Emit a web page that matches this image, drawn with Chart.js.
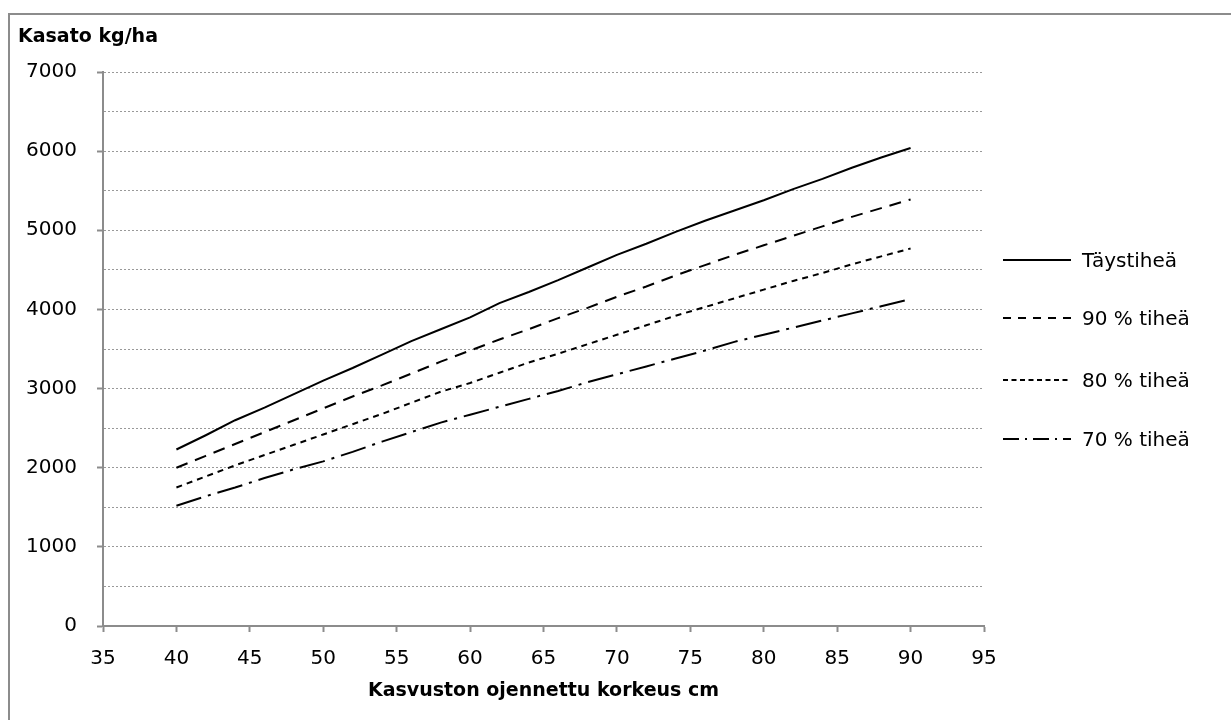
<!DOCTYPE html>
<html>
<head>
<meta charset="utf-8">
<script src="https://cdn.jsdelivr.net/npm/chart.js@4"></script>
<style>
    body { margin: 0; background: #fff; font-family: "DejaVu Sans", sans-serif; }
    .wrap { position: relative; width: 1231px; height: 720px; overflow: hidden; }
    .frame { position: absolute; left: 8px; top: 13px; width: 1240px; height: 720px; border: 2px solid #8c8c8c; box-sizing: border-box; }
    canvas { position: absolute; left: 0; top: 0; }
    .ytitle { position: absolute; left: 18px; top: 24px; font-weight: bold; font-size: 19px; color: #000; }
    #legend { position: absolute; left: 1003px; top: 0; margin: 0; padding: 0; list-style: none; }
    #legend li { position: absolute; left: 0; height: 24px; white-space: nowrap; font-size: 20px; color: #000; }
    #legend svg { position: absolute; left: 0; top: 7px; }
    #legend span { position: absolute; left: 79px; top: 0; line-height: 24px; }
</style>
</head>
<body>
<div class="wrap">
    <div class="frame"></div>
    <canvas id="yieldChart" width="1231" height="720"></canvas>
    <div class="ytitle">Kasato kg/ha</div>
    <ul id="legend"></ul>
</div>

<script>
    // plant height (cm)
    var heights = [40, 42, 44, 46, 48, 50, 52, 54, 56, 58, 60, 62, 64, 66, 68, 70, 72, 74, 76, 78, 80, 82, 84, 86, 88, 90];

    // yield kg/ha per density
    var full = [2230, 2410, 2600, 2760, 2930, 3100, 3260, 3430, 3600, 3750, 3900, 4080, 4220, 4370, 4530, 4690, 4830, 4980, 5120, 5250, 5380, 5520, 5650, 5790, 5920, 6040];
    var dens90 = [2000, 2150, 2300, 2450, 2600, 2750, 2900, 3040, 3190, 3340, 3480, 3620, 3750, 3890, 4020, 4160, 4290, 4430, 4560, 4690, 4810, 4930, 5050, 5170, 5280, 5390];
    var dens80 = [1750, 1890, 2030, 2160, 2290, 2420, 2550, 2680, 2820, 2960, 3070, 3200, 3330, 3440, 3560, 3680, 3800, 3920, 4030, 4140, 4250, 4360, 4460, 4570, 4670, 4770];
    var dens70 = [1520, 1640, 1750, 1870, 1980, 2080, 2200, 2330, 2450, 2570, 2670, 2770, 2870, 2970, 3080, 3180, 3280, 3380, 3480, 3590, 3680, 3770, 3860, 3950, 4040, 4130];

    var seriesNames = ['Täystiheä', '90 % tiheä', '80 % tiheä', '70 % tiheä'];
    var seriesValues = [full, dens90, dens80, dens70];
    var chartDash = [[], [12, 8], [6, 5], [26, 7, 3, 7]];
    var legendDash = [[], [8, 7], [5, 3.5], [16, 6, 2, 6]];
    var legendRows = [260, 318, 380, 439];

    function toPoints(values) {
        var pts = [];
        for (var i = 0; i < heights.length; i++) {
            pts.push({ x: heights[i], y: values[i] });
        }
        return pts;
    }

    var datasets = [];
    var legendHTML = '';
    for (var s = 0; s < seriesNames.length; s++) {
        datasets.push({
            label: seriesNames[s],
            data: toPoints(seriesValues[s]),
            borderColor: '#000',
            borderWidth: 2,
            borderDash: chartDash[s],
            pointRadius: 0,
            fill: false,
            tension: 0
        });
        legendHTML += '<li style="top:' + (legendRows[s] - 12) + 'px">' +
            '<svg width="70" height="10"><line x1="0" y1="5" x2="68" y2="5" stroke="#000" stroke-width="2" stroke-dasharray="' +
            (legendDash[s].length ? legendDash[s].join(',') : 'none') + '"/></svg>' +
            '<span>' + seriesNames[s] + '</span></li>';
    }
    document.getElementById('legend').innerHTML = legendHTML;

    var axisGrey = '#8c8c8c';
    var ctx = document.getElementById('yieldChart').getContext('2d');
    var chart = new Chart(ctx, {
        type: 'line',
        data: { datasets: datasets },
        options: {
            responsive: false,
            animation: false,
            devicePixelRatio: 1,
            layout: { padding: { left: 0, top: 72, right: 247, bottom: 0 } },
            scales: {
                x: {
                    type: 'linear',
                    min: 35,
                    max: 95,
                    afterFit: function (scale) { scale.height = 94; },
                    ticks: {
                        stepSize: 5,
                        color: '#000',
                        padding: 15,
                        maxRotation: 0,
                        font: { family: 'DejaVu Sans', size: 20 }
                    },
                    grid: {
                        drawOnChartArea: false,
                        drawTicks: true,
                        tickLength: 6,
                        tickColor: axisGrey,
                        tickWidth: 2
                    },
                    border: { color: axisGrey, width: 2 },
                    title: {
                        display: true,
                        text: 'Kasvuston ojennettu korkeus cm',
                        color: '#000',
                        font: { family: 'DejaVu Sans', size: 19, weight: 'bold' },
                        padding: { top: 4, bottom: 18 }
                    }
                },
                y: {
                    min: 0,
                    max: 7000,
                    afterFit: function (scale) { scale.width = 103; },
                    ticks: {
                        stepSize: 500,
                        color: '#000',
                        padding: 20,
                        autoSkip: false,
                        font: { family: 'DejaVu Sans', size: 20 },
                        callback: function (value) {
                            return value % 1000 === 0 ? value : '';
                        }
                    },
                    grid: {
                        color: '#999',
                        lineWidth: 1,
                        tickLength: 6,
                        tickWidth: 2,
                        tickColor: function (context) {
                            if (context.tick && context.tick.value % 1000 === 0) {
                                return axisGrey;
                            }
                            return 'rgba(0,0,0,0)';
                        }
                    },
                    border: { color: axisGrey, width: 2, dash: [2, 2] }
                }
            },
            plugins: {
                legend: { display: false },
                tooltip: { enabled: false }
            }
        }
    });
</script>
</body>
</html>
